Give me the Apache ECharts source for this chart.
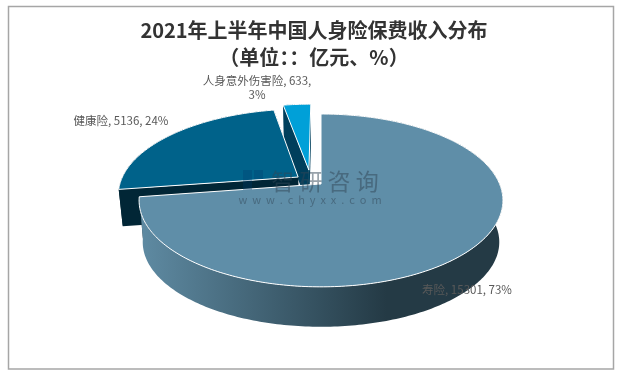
<!DOCTYPE html>
<html>
<head>
<meta charset="utf-8">
<style>
html,body{margin:0;padding:0;background:#fff;}
#main{width:619px;height:376px;}
</style>
<script src="https://cdn.jsdelivr.net/npm/echarts@6/dist/echarts.min.js"></script>
</head>
<body>
<div id="main"></div>
<script>
var categories = ['寿险', '健康险', '人身意外伤害险'];
var values = [15301, 5136, 633];
var titleLines = ['2021年上半年中国人身险保费收入分布', '（单位：：亿元、%）'];

var topColors = ['#5f8ea8', '#00628a', '#00a0d8'];
var cutColors = ['#1f3540', '#012636', '#003f5c'];
// 标签位置
var labelPos = [[467, 290], [121, 121], [257, 88]];
// 爆炸偏移(圆平面内)
var explode = [[0, 0], [-0.13, 0.085], [-0.07, 0.172]];
var depths = [42, 37, 37];

var total = 0;
for (var t = 0; t < values.length; t++) total += values[t];

var cx = 321, cy = 184, ra = 178.6, rb = 83.3, persp = 0.19;
var bottomScale = 0.98;

//圆平面上的点投影到屏幕
function project(u, v, depth){
	var w = 1 + persp * v;
	var s = depth ? bottomScale : 1;
	return [cx + s * ra * u / w, cy + depth - s * rb * v / w];
}

function rim(a0, a1, off, depth){
	var pts = [];
	var n = Math.max(2, Math.ceil((a1 - a0) * 60));
	for (var i = 0; i <= n; i++) {
		var a = a0 + (a1 - a0) * i / n;
		pts.push(project(Math.sin(a) + off[0], Math.cos(a) + off[1], depth));
	}
	return pts;
}

function poly(points, fill, stroke){
	return {
		type: 'polygon',
		shape: {points: points},
		style: {fill: fill, stroke: stroke || null, lineWidth: stroke ? 1 : 0}
	};
}

function sliceLabel(i){
	return categories[i] + ', ' + values[i] + ', ' + Math.round(values[i] / total * 100) + '%';
}

var sideGradient = new echarts.graphic.LinearGradient(0, 0, 1, 0, [
	{offset: 0, color: '#5f8ba3'},
	{offset: 0.68, color: '#243a45'},
	{offset: 1, color: '#243a45'}
]);

function renderSlice(params, api){
	//从后往前画:小块、健康险、寿险
	var i = categories.length - 1 - params.dataIndex;
	var start = 0;
	for (var k = 0; k < i; k++) start += values[k];
	var a0 = start / total * Math.PI * 2;
	var a1 = (start + values[i]) / total * Math.PI * 2;
	var off = explode[i];
	var d = depths[i];

	var topRim = rim(a0, a1, off, 0);
	var lowRim = rim(a0, a1, off, d);
	var apex = project(off[0], off[1], 0);
	var apexLow = project(off[0], off[1], d);
	var children = [];

	//切面
	children.push(poly([topRim[0], apex, apexLow, lowRim[0]], cutColors[i]));
	children.push(poly([topRim[topRim.length - 1], apex, apexLow, lowRim[lowRim.length - 1]], cutColors[i]));
	//外侧面
	var side = topRim.concat(lowRim.slice().reverse());
	children.push(poly(side, i === 0 ? sideGradient : cutColors[i]));
	//顶面
	children.push(poly([apex].concat(topRim), topColors[i], '#ffffff'));
	return {type: 'group', children: children};
}

var chart = echarts.init(document.getElementById('main'), null, {renderer: 'canvas'});
var cjk = '"Noto Sans CJK SC", sans-serif';
var labelGraphics = [];
for (var j = 0; j < categories.length; j++) {
	var txt = sliceLabel(j);
	if (j === 2) txt = txt.replace(', 3%', ',\n3%');
	labelGraphics.push({
		type: 'text', x: labelPos[j][0], y: labelPos[j][1], z: 20,
		style: {text: txt, fill: '#595959', font: '11.5px ' + cjk, textAlign: 'center', textVerticalAlign: 'middle', lineHeight: 14}
	});
}

var markColor = 'rgba(50,70,85,0.5)';
chart.setOption({
	animation: false,
	title: {
		text: titleLines.join('\n'),
		left: 309, top: 12, textAlign: 'center',
		textStyle: {fontFamily: cjk, fontSize: 20, fontWeight: 'bold', color: '#333333', lineHeight: 27}
	},
	graphic: [
		{type: 'rect', shape: {x: 8.5, y: 6.5, width: 605, height: 362.5}, style: {fill: null, stroke: '#a6a6a6', lineWidth: 1.5}, z: 0},
		//水印
		{type: 'rect', shape: {x: 243, y: 170, width: 9, height: 20}, style: {fill: 'rgba(0,60,110,0.3)'}, z: 30},
		{type: 'rect', shape: {x: 254, y: 170, width: 9, height: 9}, style: {fill: 'rgba(0,60,110,0.3)'}, z: 30},
		{type: 'text', x: 325, y: 181, z: 30, style: {text: '智 研 咨 询', fill: markColor, font: '23px ' + cjk, textAlign: 'center', textVerticalAlign: 'middle'}},
		{type: 'text', x: 310, y: 200, z: 30, style: {text: 'w  w  w  .  c  h  y  x  x  .  c  o  m', fill: markColor, font: '11px ' + cjk, textAlign: 'center', textVerticalAlign: 'middle'}}
	].concat(labelGraphics),
	series: [{
		type: 'custom',
		coordinateSystem: 'none',
		renderItem: renderSlice,
		data: values.slice().reverse(),
		z: 5
	}]
});
</script>
</body>
</html>
